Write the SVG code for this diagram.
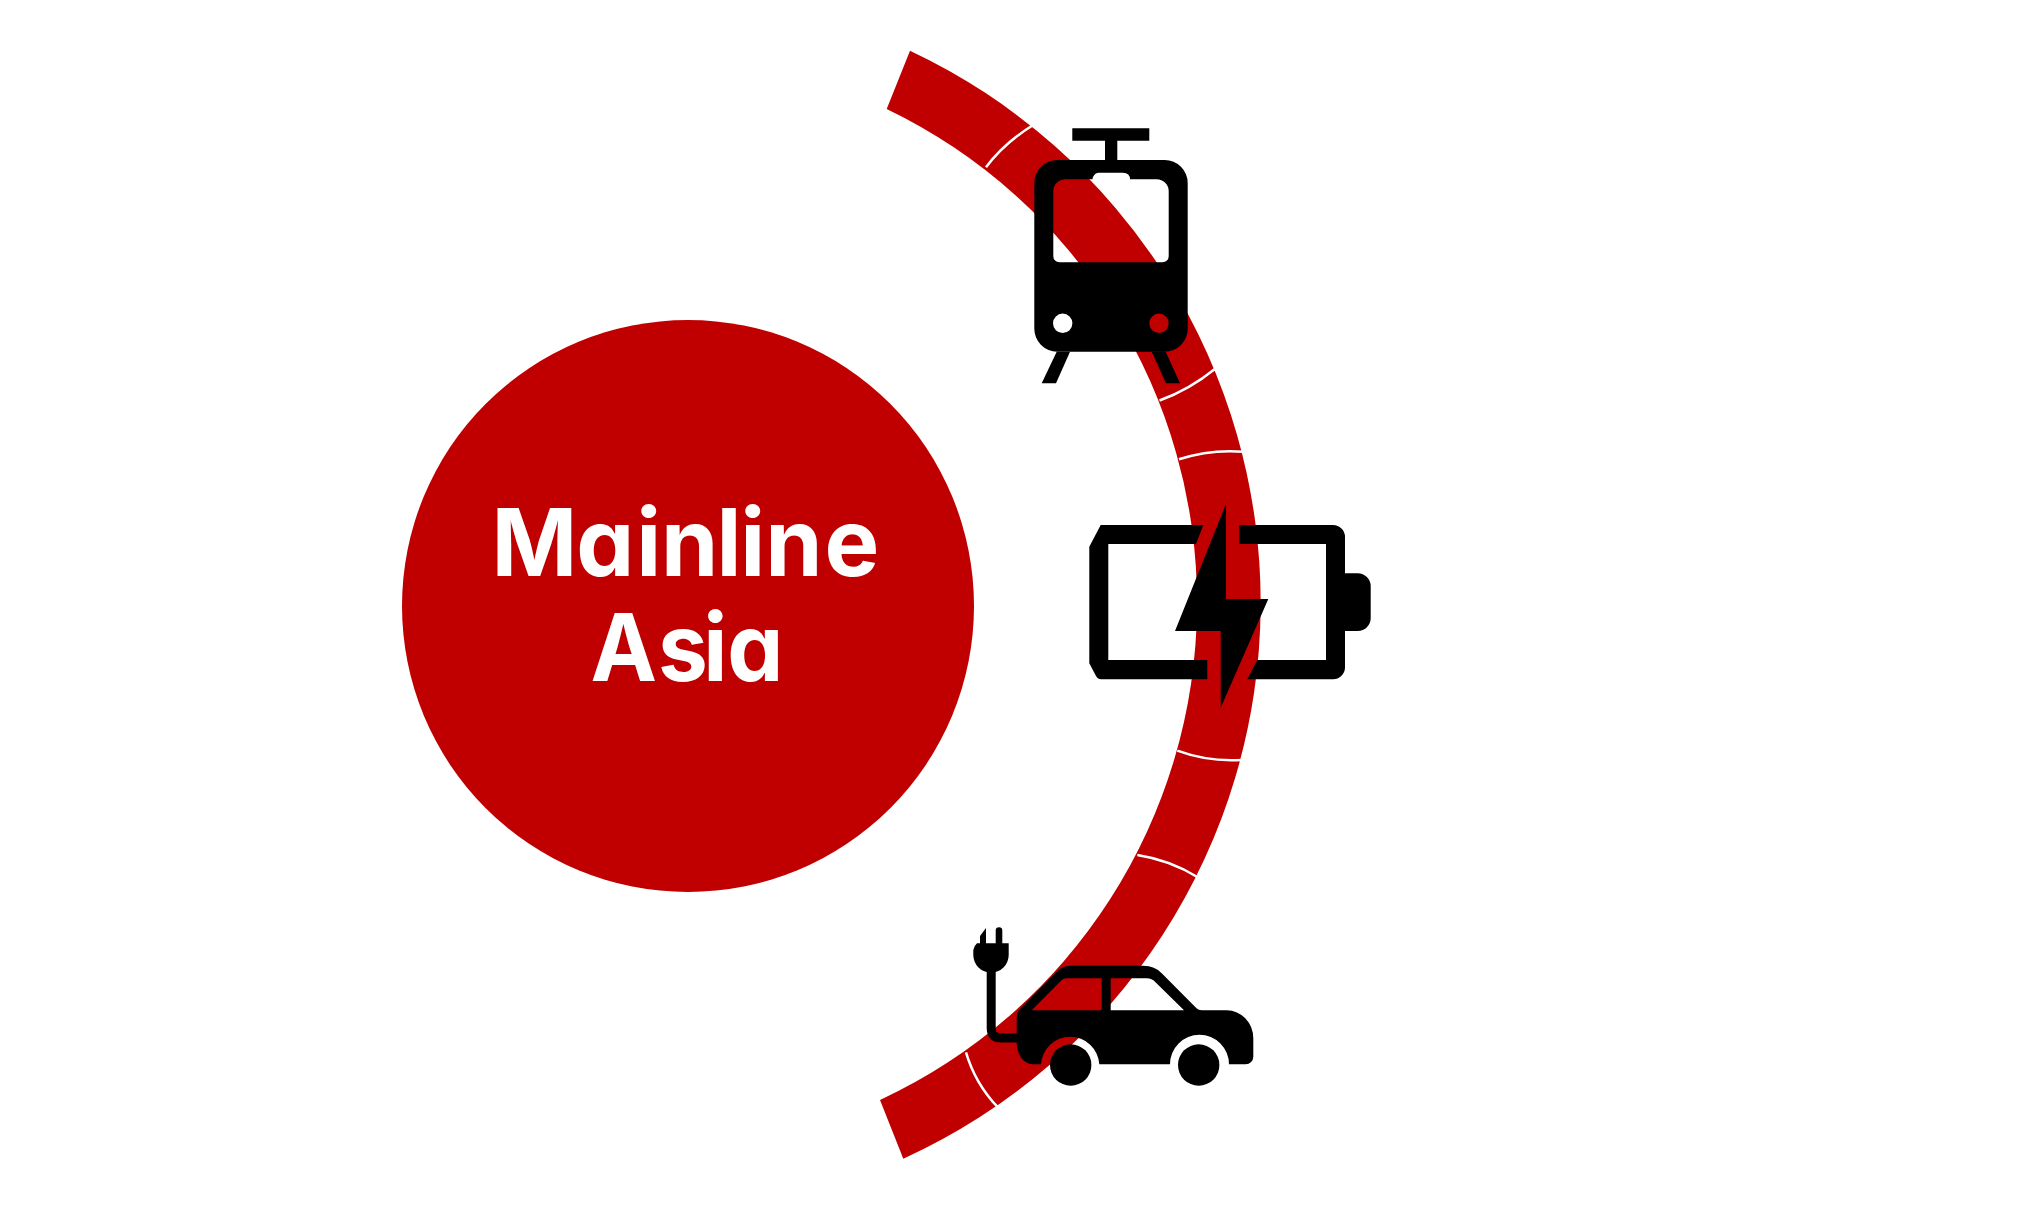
<svg xmlns="http://www.w3.org/2000/svg" width="2039" height="1205" viewBox="0 0 2039 1205">
<style>
.red{fill:#c00000}
.ico{fill:#000;fill-rule:evenodd}
.sep{fill:none;stroke:#fff;stroke-width:2.5}
.lbl{fill:#fff;font-family:"Inter","Liberation Sans",sans-serif;font-weight:700;font-size:93.5px;font-feature-settings:"cv11" 1;text-anchor:middle}
</style>
<rect width="2039" height="1205" fill="#fff"/>
<g id="connectors">
<path class="red" d="M910,50.7A610.5,610.5 0 0 1 903.3,1158.7L880,1100A548.2,548.2 0 0 0 886.7,109Z"/>
<g id="separators">
<path class="sep" d="M1034,124.5Q1004,143 986,167.3"/>
<path class="sep" d="M1215.5,368.5Q1189,390 1159.5,400.5"/>
<path class="sep" d="M1243.5,451.7Q1210,449 1179,459.3"/>
<path class="sep" d="M1177.3,750.7Q1208,762 1241.5,760"/>
<path class="sep" d="M1137.3,855Q1170,860 1197.8,877.3"/>
<path class="sep" d="M966,1052.3Q975,1083 997.3,1106.7"/>
</g>
</g>
<g id="mainline-asia">
<circle class="red" cx="688" cy="606" r="286"/>
<text class="lbl" x="688" y="576" dx="-2.6 -1 2 0 -2 -1 0 2" textLength="388" lengthAdjust="spacingAndGlyphs">Mainline</text>
<text class="lbl" x="687" y="680.7" dx="0 2 -5 0" textLength="193" lengthAdjust="spacingAndGlyphs">Asia</text>
</g>
<g id="tram">
<path class="ico" d="M1072.3,128.3H1149.3V140.7H1117.3V160H1164.7A23,23 0 0 1 1187.7,183V328.7A23,23 0 0 1 1164.7,351.7H1057.3A23,23 0 0 1 1034.3,328.7V183A23,23 0 0 1 1057.3,160H1105V140.7H1072.3Z
M1065.3,179.3H1092.5Q1092.5,178 1093,177Q1095,172.7 1099,172.7H1123Q1130,173 1130,179.3H1156.7A12,12 0 0 1 1168.7,191.3V256.3A6,6 0 0 1 1162.7,262.3H1059.3A6,6 0 0 1 1053.3,256.3V191.3A12,12 0 0 1 1065.3,179.3Z
M1053,323.3a9.7,9.7 0 1 0 19.4,0a9.7,9.7 0 1 0 -19.4,0Z
M1149.3,323.3a9.7,9.7 0 1 0 19.4,0a9.7,9.7 0 1 0 -19.4,0Z"/>
<path class="ico" d="M1056.7,351.7H1070L1056,383.3H1041.7Z"/>
<path class="ico" d="M1151.7,351.7H1165.7L1180,383.3H1166Z"/>
</g>
<g id="battery">
<path class="ico" d="M1203.3,525H1100.7L1089.3,546.7V663.3L1096,676Q1098,679.3 1101,679.3H1207.3V660H1108.3V544H1196Z"/>
<path class="ico" d="M1239.3,525H1333A12,12 0 0 1 1345,537V573.3H1357.7A13,13 0 0 1 1370.7,586.3V618A13,13 0 0 1 1357.7,631H1345V667.3A12,12 0 0 1 1333,679.3H1247.3L1257.3,660H1326V544H1239.3Z"/>
<path class="ico" d="M1226,504V599H1268.3L1220.7,707.7V631H1175Z"/>
</g>
<g id="electric-car">
<path class="ico" d="M1016.7,1016Q1016.7,1012 1020,1009L1056.7,971.7Q1062,965.7 1070,965.7H1143.3Q1155,965.7 1161.7,973.3L1195,1006.7Q1198,1010.3 1202,1010.3H1226.7A26.6,28 0 0 1 1253.3,1038.3V1056.7A7.6,7.6 0 0 1 1245.7,1064.3H1229A29.5,29.5 0 0 0 1170,1064.3H1099.3A29.2,29.2 0 0 0 1041,1064.3H1033.3A16.6,21 0 0 1 1016.7,1043.3Z
M1031.7,1010.3L1060,981.7Q1063,978.3 1067,978.3H1101.7V1010.3Z
M1110.7,978.3H1146.7Q1152,978.5 1155,981.7L1184,1010.3H1110.7Z"/>
<circle cx="1070.7" cy="1065" r="20.7"/>
<circle cx="1198.7" cy="1065" r="20.7"/>
<path d="M991.2,970V1028Q991.2,1038 1001,1038H1017" fill="none" stroke="#000" stroke-width="9"/>
<path class="ico" d="M980,943.3V936L986,928V943.3H995.7V930.5A3.3,3.3 0 0 1 1002.3,930.5V943.3H1008.7V955A17.7,17.7 0 0 1 973.3,955V950Q974,946 977,943.3Z"/>
</g>
</svg>
